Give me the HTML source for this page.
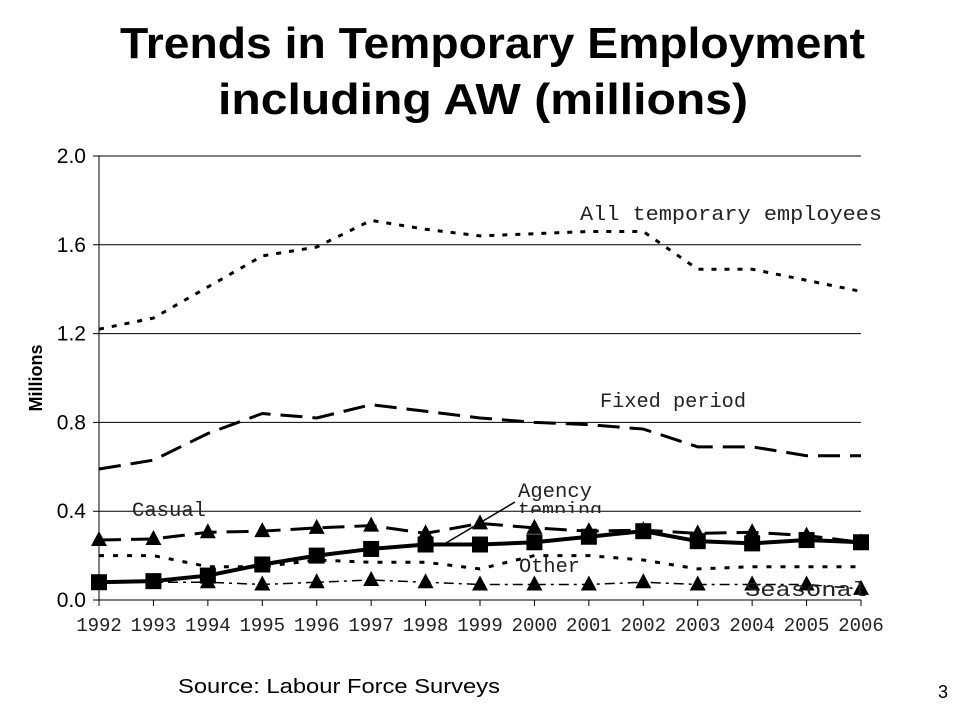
<!DOCTYPE html>
<html><head><meta charset="utf-8"><style>
body{margin:0;background:#fff;width:960px;height:720px;overflow:hidden;font-family:"Liberation Sans",sans-serif}
</style></head><body>
<svg width="960" height="720" xmlns="http://www.w3.org/2000/svg">
<text x="120" y="58" textLength="745" lengthAdjust="spacingAndGlyphs" font-size="44" font-weight="bold" font-family="Liberation Sans">Trends in Temporary Employment</text>
<text x="218" y="114" textLength="530" lengthAdjust="spacingAndGlyphs" font-size="44" font-weight="bold" font-family="Liberation Sans">including AW (millions)</text>
<text x="42" y="378" text-anchor="middle" font-size="18" font-weight="bold" transform="rotate(-90 42 378)">Millions</text>
<g id="grid"></g><g id="axes"></g><g id="series"></g><g id="labels"></g>
<text x="178" y="693" font-size="20" textLength="322" lengthAdjust="spacingAndGlyphs">Source: Labour Force Surveys</text>
<text x="938" y="698" font-size="18">3</text>
</svg>
<script>
const years=["1992","1993","1994","1995","1996","1997","1998","1999","2000","2001","2002","2003","2004","2005","2006"];
const yTicks=[0,0.4,0.8,1.2,1.6,2.0];
const allTemp=[1.22,1.27,1.41,1.55,1.59,1.71,1.67,1.64,1.65,1.66,1.66,1.49,1.49,1.44,1.39];
const fixedPeriod=[0.59,0.63,0.75,0.84,0.82,0.88,0.85,0.82,0.80,0.79,0.77,0.69,0.69,0.65,0.65];
const casual=[0.27,0.275,0.305,0.31,0.325,0.335,0.30,0.345,0.325,0.31,0.315,0.30,0.305,0.29,0.26];
const agency=[0.08,0.085,0.11,0.16,0.20,0.23,0.25,0.25,0.26,0.285,0.31,0.265,0.255,0.27,0.26];
const other=[0.20,0.20,0.15,0.15,0.18,0.17,0.17,0.14,0.20,0.20,0.18,0.14,0.15,0.15,0.15];
const seasonal=[0.08,0.08,0.08,0.07,0.08,0.09,0.08,0.07,0.07,0.07,0.08,0.07,0.07,0.07,0.05];
const NS="http://www.w3.org/2000/svg";
const X0=99,X1=861,Y0=600,Y1=156;
const xs=i=>X0+i*(X1-X0)/(years.length-1);
const ys=v=>Y0-(v/2.0)*(Y0-Y1);
function mk(tag,attrs,parent){const e=document.createElementNS(NS,tag);for(const k in attrs)e.setAttribute(k,attrs[k]);document.getElementById(parent).appendChild(e);return e;}
yTicks.forEach(t=>{
  const l=mk('line',{x1:X0-6,x2:X1,y1:ys(t),y2:ys(t),stroke:'#000','stroke-width':1},'grid');
  
  
  const tx=mk('text',{x:X0-13,y:ys(t)+7,'text-anchor':'end','font-size':21},'axes');
  tx.textContent=t.toFixed(1);
  
  
});
const ax=mk('line',{x1:X0,x2:X0,y1:Y1,y2:Y0,stroke:'#000'},'axes');


years.forEach((y,i)=>{
  const tk=mk('line',{x1:xs(i),x2:xs(i),y1:Y0,y2:Y0+6,stroke:'#000'},'axes');
  
  
  const tx=mk('text',{x:xs(i),y:Y0+31,'text-anchor':'middle','font-size':19,'font-family':'Liberation Mono',fill:'#222'},'axes');
  tx.textContent=y;
  
  
});
function series(vals,name,dash,width,marker){
  const pts=vals.map((v,i)=>xs(i)+','+ys(v)).join(' ');
  const p=mk('polyline',{points:pts,fill:'none',stroke:'#000','stroke-width':width,'stroke-dasharray':dash},'series');
  
  
  vals.forEach((v,i)=>{
    const cx=xs(i),cy=ys(v);let m;
    if(marker==='tri'){m=mk('polygon',{points:`${cx},${cy-9} ${cx-8},${cy+6} ${cx+8},${cy+6}`,fill:'#000'},'series');}
    else if(marker==='sq'){m=mk('rect',{x:cx-8,y:cy-8,width:16,height:16,fill:'#000'},'series');}
    else return;
    
    
  });
}
series(allTemp,'all-temporary','5 8',3,null);
series(fixedPeriod,'fixed-period','22 10',3,null);
series(other,'other','5 9',3,null);
series(seasonal,'seasonal','10 5 3 5',1.5,'tri');
series(casual,'casual','22 10',3,'tri');
series(agency,'agency-temping','none',4,'sq');
const lbls=[["All temporary employees",580,220,302],["Fixed period",600,407,146],["Casual",132,516,74],["Agency",518,497,74],["Other",519,572,61],["Seasonal",745,596,122]];
lbls.forEach(l=>{
  const t=mk('text',{x:l[1],y:l[2],'font-size':20,'font-family':'Liberation Mono',fill:'#222',textLength:l[3],lengthAdjust:'spacingAndGlyphs'},'labels');
  t.textContent=l[0];
  
  
});
const tmp=mk('text',{x:518,y:516,'font-size':20,'font-family':'Liberation Mono',fill:'#222','clip-path':'inset(0 0 10px 0)'},'labels');
tmp.textContent="temping";


const ld=mk('line',{x1:515,y1:502,x2:446,y2:543,stroke:'#000','stroke-width':1.5},'labels');


</script>
</body></html>
